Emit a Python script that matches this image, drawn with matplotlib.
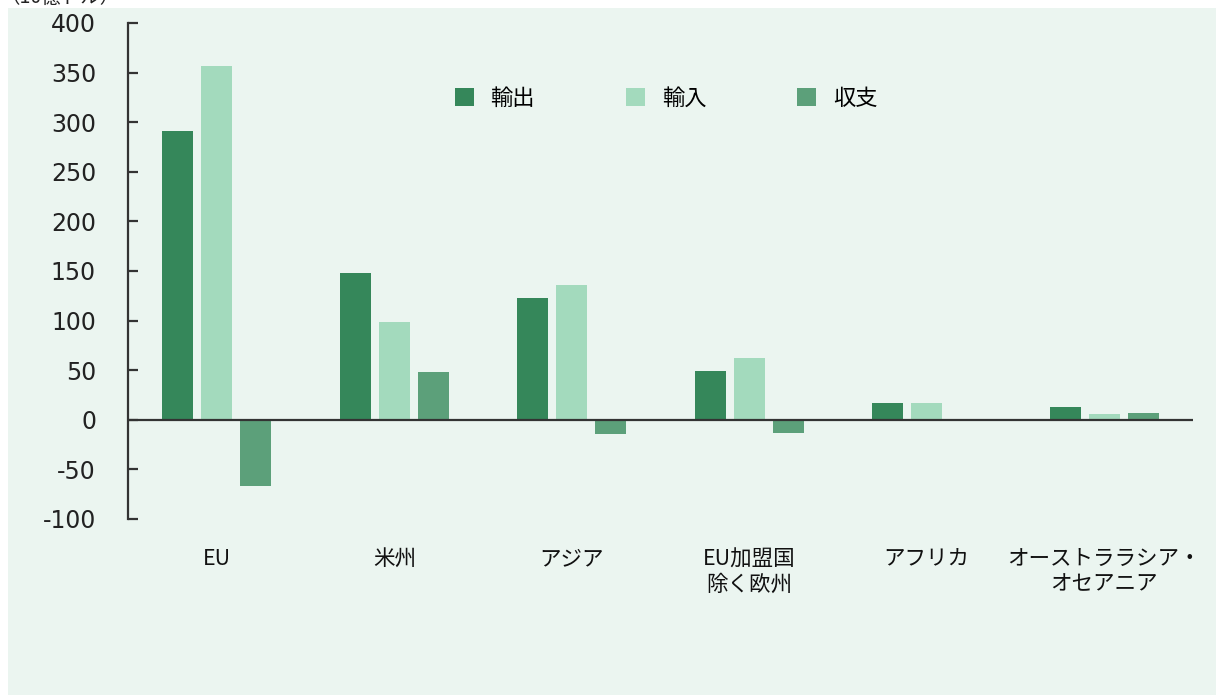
import numpy as np
import matplotlib
matplotlib.use('Agg')
import matplotlib.pyplot as plt
from matplotlib.patches import Rectangle

plt.rcParams['font.family'] = ['Noto Sans CJK JP', 'DejaVu Sans']

# ============================================================
# Data (10億ドル)
# ============================================================
regions = ["EU", "米州", "アジア", "EU加盟国\n除く欧州", "アフリカ", "オーストララシア・\nオセアニア"]
exports = [291, 148, 123, 49, 17, 13]
imports = [357, 99, 136, 62, 17, 6]
balance = [-67, 48, -14, -13, 0, 7]
series_names = ["輸出", "輸入", "収支"]
yticks = [-100, -50, 0, 50, 100, 150, 200, 250, 300, 350, 400]

colors = ["#35875A", "#A3DABD", "#5CA07A"]
bg = "#EBF5F0"

fig = plt.figure(figsize=(12.16, 7.0), dpi=100, facecolor="white")
fig.patches.append(Rectangle((8 / 1216, 5 / 700), 1 - 8 / 1216, 1 - 13 / 700,
                             transform=fig.transFigure, facecolor=bg,
                             edgecolor="none", zorder=-10))
ax = fig.add_axes([128 / 1216, 1 - 519 / 700, (1193 - 128) / 1216, (519 - 23) / 700])
ax.set_facecolor("none")

x = np.arange(len(regions))
w = 0.175
step = 0.22
for k, (vals, name) in enumerate(zip([exports, imports, balance], series_names)):
    ax.bar(x + (k - 1) * step, vals, width=w, color=colors[k], label=name, zorder=2)

ax.axhline(0, color="#333333", lw=1.6, zorder=3)
ax.set_xlim(-0.5, 5.5)
ax.set_ylim(-100, 400)
ax.set_yticks(yticks)
ax.set_yticklabels([str(v) for v in yticks], family=["DejaVu Sans"],
                   fontsize=17, color="#222222")
ax.tick_params(axis="y", direction="in", length=7, width=1.6, color="#333333", pad=23)

for s in ["top", "right", "bottom"]:
    ax.spines[s].set_visible(False)
ax.spines["left"].set_linewidth(1.6)
ax.spines["left"].set_color("#333333")

ax.set_xticks(x)
ax.set_xticklabels(regions, fontsize=15.5, color="#111111", va="top", linespacing=1.2)
ax.tick_params(axis="x", length=0, pad=21)

leg = ax.legend(loc="center left", bbox_to_anchor=(455 / 1216, 1 - 98 / 700),
                bbox_transform=fig.transFigure, ncol=3, frameon=False,
                handlelength=0.85, handleheight=0.85, handletextpad=0.75,
                columnspacing=4.1, borderpad=0, borderaxespad=0, fontsize=16)

fig.text(0.0, 1.003, "（10億ドル）", fontsize=14, color="#222222", ha="left", va="center")

plt.savefig("out.png", dpi=100, facecolor="white")
plt.close()
